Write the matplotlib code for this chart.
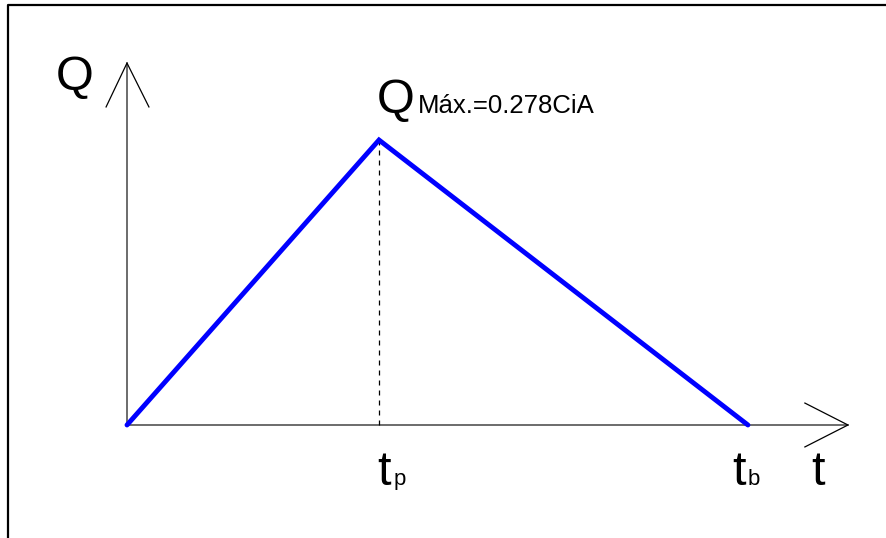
import matplotlib
matplotlib.use("Agg")
import matplotlib.pyplot as plt

# Data (hydrograph: time vs discharge, normalized)
t_vals = [0.0, 1.0, 2.464]
q_vals = [0.0, 1.0, 0.0]
t_peak = 1.0
q_peak = 1.0

label_Q = "Q"
label_t = "t"
label_peak = "Máx.=0.278CiA"
label_tp = "p"
label_tb = "b"

W, H = 886, 538
fig = plt.figure(figsize=(W / 100, H / 100), dpi=100)
ax = fig.add_axes([0, 0, 1, 1])
ax.set_xlim(-127 / 252, (W - 127) / 252)
ax.set_ylim(-(H - 425) / 285, 425 / 285)
ax.axis("off")

font = "Liberation Sans"

# Frame (partial box)
ax.plot([-0.472, -0.472, 3.1], [-0.5, 1.4737, 1.4737], color="black", lw=1.6,
        solid_capstyle="butt", clip_on=False)

# Axes lines
ax.plot([0, 2.861], [0, 0], color="#606060", lw=1.3)
ax.plot([0, 0], [0, 1.270], color="#606060", lw=1.3)
# Arrow heads
ax.plot([-0.083, 0, 0.087], [1.116, 1.270, 1.116], color="black", lw=0.9)
ax.plot([2.690, 2.861, 2.690], [0.077, 0, -0.077], color="black", lw=0.9)

# Dashed peak line
ax.plot([t_peak, t_peak], [0, q_peak], color="black", lw=0.9, ls=(0, (4, 4)))

# Hydrograph
ax.plot(t_vals, q_vals, color="#0000ff", lw=3.5, solid_capstyle="round",
        solid_joinstyle="miter")

big = 35
small = 16
# Axis labels
ax.text(-0.282, (425 - 90) / 285, label_Q, fontsize=big, family=font,
        ha="left", va="baseline")
ax.text((811 - 127) / 252, (425 - 485) / 285, label_t, fontsize=big, family=font,
        ha="left", va="baseline")
# Peak label
ax.text((377 - 127) / 252, (425 - 113) / 285, label_Q, fontsize=big, family=font,
        ha="left", va="baseline")
ax.text((418 - 127) / 252, (425 - 113) / 285, label_peak, fontsize=18.5, family=font,
        ha="left", va="baseline")
# tp / tb
ax.text((377 - 127) / 252, (425 - 485) / 285, label_t, fontsize=big, family=font,
        ha="left", va="baseline")
ax.text((394 - 127) / 252, (425 - 485) / 285, label_tp, fontsize=small, family=font,
        ha="left", va="baseline")
ax.text((732 - 127) / 252, (425 - 485) / 285, label_t, fontsize=big, family=font,
        ha="left", va="baseline")
ax.text((748 - 127) / 252, (425 - 485) / 285, label_tb, fontsize=small, family=font,
        ha="left", va="baseline")

fig.savefig("out.png", dpi=100)
